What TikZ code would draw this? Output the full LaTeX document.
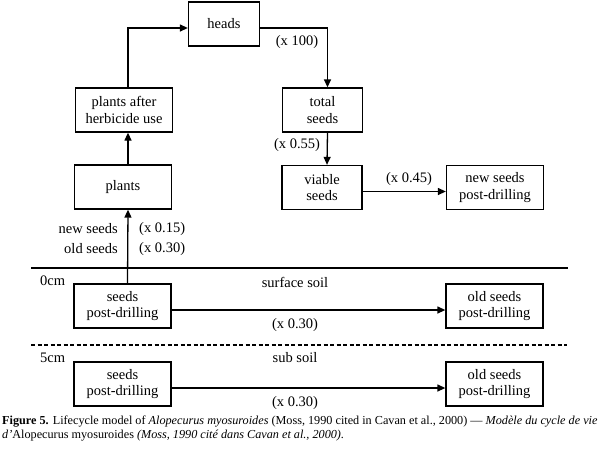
\documentclass[tikz,border=0pt]{standalone}
\usepackage{fontspec}
\setmainfont{Liberation Serif}
\usetikzlibrary{arrows.meta,positioning,calc}
\tikzset{
  cyclebox/.style={draw, line width=1.3pt, align=center, minimum width=97pt,
                   minimum height=44pt, inner sep=2pt, font=\fontsize{14.5}{16.5}\selectfont},
  flowarr/.style={-{Triangle[length=8pt,width=7pt]}, line width=1.3pt},
  ratenote/.style={font=\fontsize{14.5}{16.5}\selectfont, inner sep=0pt},
  soilline/.style={line width=1.3pt},
}

\begin{document}
\begin{tikzpicture}[x=1pt,y=-1pt]
    \useasboundingbox (0,0) rectangle (600,448);
    % life cycle above ground
    \node[cyclebox, minimum width=71pt] (heads) at (224,24) {heads};
    \node[cyclebox] (after) at (124,110) {plants after\\herbicide use};
    \node[cyclebox] (plants) at (123,187) {plants};
    \node[cyclebox, minimum width=80pt] (total) at (322.5,110) {total\\seeds};
    \node[cyclebox, minimum width=80pt] (viable) at (322,187.5) {viable\\seeds};
    \node[cyclebox] (newpd) at (495,187.5) {new seeds\\post-drilling};
    % soil layers
    \node[cyclebox] (surfseeds) at (122.5,306) {seeds\\post-drilling};
    \node[cyclebox] (surfold) at (494.5,306) {old seeds\\post-drilling};
    \node[cyclebox] (subseeds) at (122.5,384) {seeds\\post-drilling};
    \node[cyclebox] (subold) at (494.5,384) {old seeds\\post-drilling};
    \draw[soilline] (31,268) -- (568,268);
    \draw[soilline, dash pattern=on 4pt off 2.5pt] (31,345) -- (567,345);
    % labels
    \node[ratenote, anchor=west] (zerocm) at (40,281) {0cm};
    \node[ratenote, anchor=west] (fivecm) at (40,358) {5cm};
    \node[ratenote] (surflbl) at (295,282) {surface soil};
    \node[ratenote] (sublbl) at (295,358) {sub soil};
    \node[ratenote] (hundred) at (297,42) {(x 100)};
    \node[ratenote] (viablerate) at (297,145) {(x 0.55)};
    \node[ratenote] (newrate) at (409,179) {(x 0.45)};
    \node[ratenote, anchor=east] (newlbl) at (118,229) {new seeds};
    \node[ratenote, anchor=east] (oldlbl) at (118,249) {old seeds};
    \node[ratenote, anchor=west] (newgerm) at (139,229) {(x 0.15)};
    \node[ratenote, anchor=west] (oldgerm) at (139,249) {(x 0.30)};
    \node[ratenote] (surfrate) at (295,325) {(x 0.30)};
    \node[ratenote] (subrate) at (295,403) {(x 0.30)};
    % arrows
    \draw[flowarr] ([xshift=5pt]surfseeds.north) -- ([xshift=5pt]plants.south);
    \draw[flowarr] ([xshift=5pt]plants.north) -- ([xshift=4pt]after.south);
    \draw[flowarr] ([xshift=4pt]after.north) |- ([yshift=-4pt]heads.west);
    \draw[flowarr] ([yshift=-4pt]heads.east) -| ([xshift=5pt]total.north);
    \draw[flowarr] ([xshift=5pt]total.south) -- ([xshift=5pt]viable.north);
    \draw[flowarr] ([yshift=-4pt]viable.east) -- ([yshift=-4pt]newpd.west);
    \draw[flowarr] ([yshift=-4pt]surfseeds.east) -- ([yshift=-4pt]surfold.west);
    \draw[flowarr] ([yshift=-4pt]subseeds.east) -- ([yshift=-4pt]subold.west);
    % caption
    \node[anchor=north west, align=left, inner sep=0pt, font=\fontsize{12.2}{14}\selectfont] (caption) at (2,416)
      {\textbf{Figure 5.} Lifecycle model of \textit{Alopecurus myosuroides} (Moss, 1990 cited in Cavan et al., 2000) --- \textit{Modèle du cycle de vie}\\
       \textit{d'}Alopecurus myosuroides \textit{(Moss, 1990 cité dans Cavan et al., 2000).}};
\end{tikzpicture}
\end{document}
